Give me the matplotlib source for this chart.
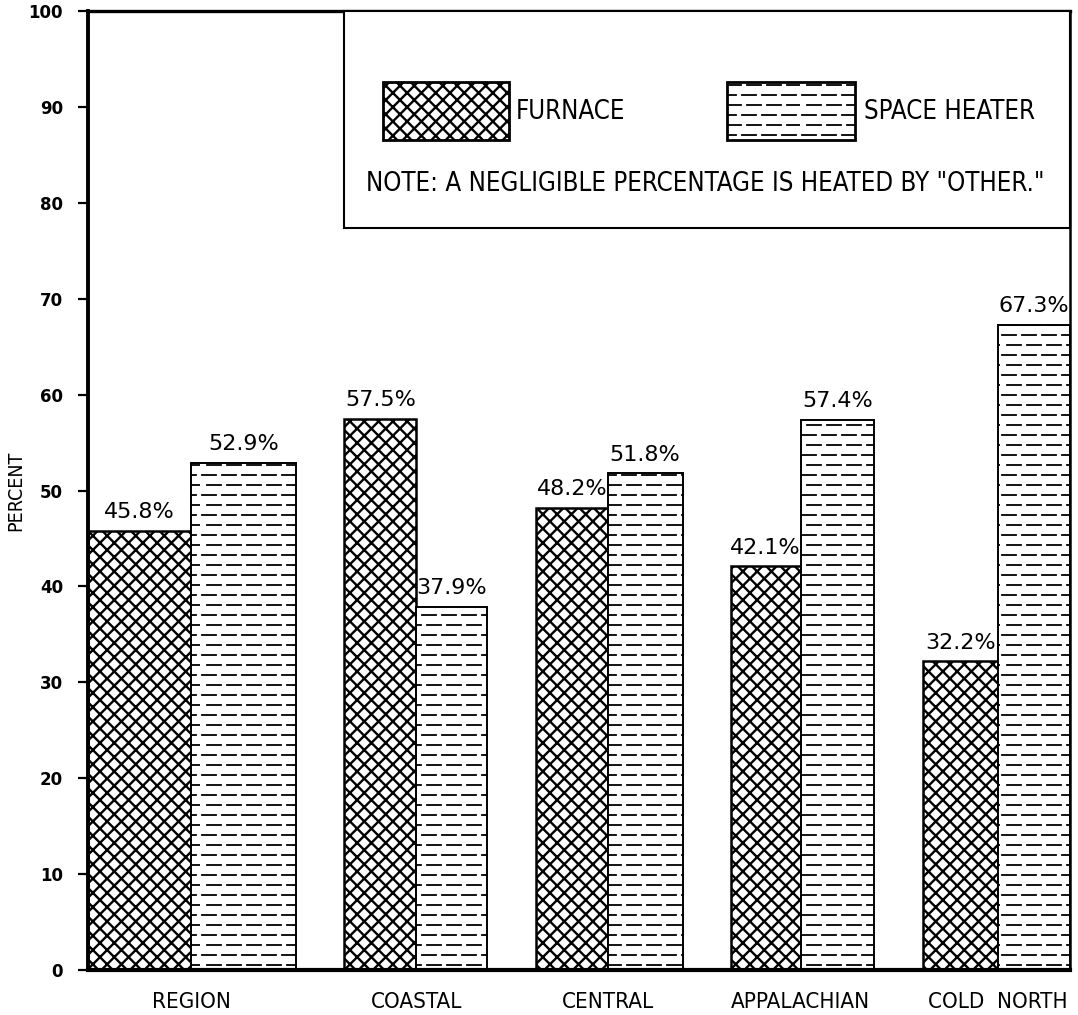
import numpy as np
import matplotlib
matplotlib.use('Agg')
import matplotlib.pyplot as plt
import matplotlib.hatch as mhatch
from matplotlib.path import Path
from matplotlib.patches import Rectangle

# ---------------- data ----------------
categories = ['REGION', 'COASTAL', 'CENTRAL', 'APPALACHIAN', 'COLD  NORTH']
furnace = [45.8, 57.5, 48.2, 42.1, 32.2]
space_heater = [52.9, 37.9, 51.8, 57.4, 67.3]
yticks = [0, 10, 20, 30, 40, 50, 60, 70, 80, 90, 100]
legend_labels = ['FURNACE', 'SPACE HEATER']
note_text = 'NOTE: A NEGLIGIBLE PERCENTAGE IS HEATED BY "OTHER."'
ylabel = 'PERCENT'

# ---------------- layout (axis units) ----------------
group_left = [0, 256, 448, 642, 834]
furnace_w = [103, 72, 71, 70, 75]
heater_w = [105, 71, 75, 73, 72]
X_MAX = 981

# ---------------- custom hatches ----------------
class DashedRows(mhatch.HatchPatternBase):
    def __init__(self, hatch, density):
        self.rows = hatch.count('-') * 10
        self.nd = 5
        self.num_vertices = self.rows * self.nd * 2

    def set_vertices_and_codes(self, vertices, codes):
        k = 0
        for i in range(self.rows):
            y = (i + 0.5) / self.rows
            off = 0.05 if i % 2 else 0.0
            for j in range(self.nd):
                x0 = j / self.nd + 0.02 + off
                x1 = x0 + 0.14
                vertices[k] = (x0, y)
                vertices[k + 1] = (x1, y)
                codes[k] = Path.MOVETO
                codes[k + 1] = Path.LINETO
                k += 2


def dense(base):
    class Dense(base):
        def __init__(self, hatch, density):
            super().__init__(hatch, 14)
    return Dense


new_types = []
for t in mhatch._hatch_types:
    if t is mhatch.HorizontalHatch:
        new_types.append(DashedRows)
    elif t.__name__ in ('NorthEastHatch', 'SouthEastHatch', 'NorthWestHatch'):
        new_types.append(dense(t))
    else:
        new_types.append(t)
mhatch._hatch_types = new_types

plt.rcParams['font.family'] = ['DejaVu Sans']
NARROW = ['DejaVu Sans']
CROSS_LW = 1.7
DASH_LW = 1.3

W, H = 1078, 1015
fig = plt.figure(figsize=(W / 100, H / 100), dpi=100)
fig.patch.set_facecolor('white')
ax = fig.add_axes([88 / W, 45 / H, (1070 - 88) / W, (970 - 11) / H])

f_centers = [g + w / 2 for g, w in zip(group_left, furnace_w)]
h_lefts = [g + w for g, w in zip(group_left, furnace_w)]
h_centers = [l + w / 2 for l, w in zip(h_lefts, heater_w)]

plt.rcParams['hatch.linewidth'] = CROSS_LW
bf = ax.bar(f_centers, furnace, width=furnace_w, facecolor='white',
            edgecolor='black', linewidth=1.8, hatch='x')
plt.rcParams['hatch.linewidth'] = DASH_LW
bh = ax.bar(h_centers, space_heater, width=heater_w, facecolor='white',
            edgecolor='black', linewidth=1.4, hatch='-')

for xs, vals in ((f_centers, furnace), (h_centers, space_heater)):
    for x, v in zip(xs, vals):
        ax.annotate(f'{v}%', xy=(x, v), xytext=(0, 6),
                    textcoords='offset points', ha='center', va='bottom',
                    fontsize=16, color='black')

ax.set_xlim(0, X_MAX)
ax.set_ylim(0, 100)
ax.set_yticks(yticks)
ax.set_yticklabels([str(t) for t in yticks], fontsize=12, fontweight='bold')
ax.set_xticks(h_lefts)
ax.set_xticklabels(categories, fontsize=16, family=NARROW,
                   fontstretch='condensed')
ax.tick_params(axis='x', length=0, pad=16)
ax.tick_params(axis='y', length=7.5, width=1.6, pad=10.5)
ax.set_ylabel(ylabel, family=NARROW, fontsize=14, fontstretch='condensed')
ax.yaxis.set_label_coords(-0.064, 0.5)

ax.spines['left'].set_linewidth(2.8)
ax.spines['bottom'].set_linewidth(3.0)
ax.spines['top'].set_linewidth(2.4)
ax.spines['right'].set_linewidth(1.8)

# ---------------- legend box (figure pixel coordinates) ----------------
lax = fig.add_axes([0, 0, 1, 1], facecolor='none')
lax.set_xlim(0, W)
lax.set_ylim(H, 0)
lax.axis('off')
lax.add_patch(Rectangle((344, 11), 1070 - 344, 228 - 11, facecolor='white',
                        edgecolor='black', linewidth=1.5))
plt.rcParams['hatch.linewidth'] = CROSS_LW
lax.add_patch(Rectangle((383, 82), 126, 58, facecolor='white',
                        edgecolor='black', linewidth=2.0, hatch='x'))
plt.rcParams['hatch.linewidth'] = DASH_LW
lax.add_patch(Rectangle((727, 82), 128, 58, facecolor='white',
                        edgecolor='black', linewidth=2.0, hatch='-'))
lax.text(516, 112, legend_labels[0], ha='left', va='center', fontsize=18.5,
         family=NARROW, fontstretch='condensed')
lax.text(864, 112, legend_labels[1], ha='left', va='center', fontsize=18.5,
         family=NARROW, fontstretch='condensed')
lax.text(705, 184, note_text, ha='center', va='center', fontsize=18.5,
         family=NARROW, fontstretch='condensed')

fig.savefig('out.png', dpi=100, facecolor='white')
